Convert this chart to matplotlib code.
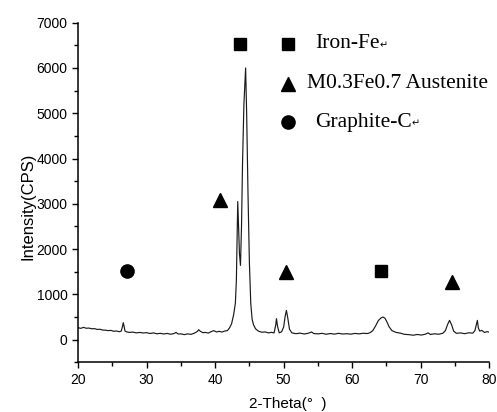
import matplotlib
matplotlib.use("Agg")
import matplotlib.pyplot as plt
from matplotlib.ticker import MultipleLocator

# ==========================================
# Data
# ==========================================

two_theta = [
    20.0, 20.4, 20.8, 21.2, 21.6, 22.0, 22.4, 22.8, 23.2, 23.6,
    24.0, 24.4, 24.8, 25.2, 25.6, 26.0, 26.3, 26.5, 26.6, 26.7,
    26.85, 27.1, 27.5, 28.0, 28.5, 29.0, 29.5, 30.0, 30.5, 31.0,
    31.5, 32.0, 32.5, 33.0, 33.5, 34.0, 34.3, 34.6, 35.0, 35.5,
    36.0, 36.5, 37.0, 37.4, 37.6, 37.8, 38.2, 38.6, 39.0, 39.4,
    39.8, 40.2, 40.6, 41.0, 41.4, 41.8, 42.1, 42.4, 42.7, 42.95,
    43.1, 43.2, 43.3, 43.4, 43.55, 43.7, 43.85, 44.0, 44.2, 44.45,
    44.6, 44.8, 45.0, 45.2, 45.4, 45.6, 45.9, 46.3, 46.8, 47.3,
    47.8, 48.2, 48.6, 48.85, 48.95, 49.1, 49.35, 49.7, 50.0, 50.2,
    50.4, 50.6, 50.85, 51.2, 51.8, 52.4, 53.0, 53.6, 54.06, 54.4,
    55.0, 55.6, 56.2, 56.8, 57.4, 58.0, 58.6, 59.2, 59.8, 60.4,
    61.0, 61.6, 62.2, 62.6, 63.0, 63.4, 63.8, 64.2, 64.5, 64.8,
    65.1, 65.4, 65.8, 66.4, 67.0, 67.6, 68.2, 68.9, 69.5, 70.1,
    70.7, 71.07, 71.4, 72.0, 72.6, 73.2, 73.6, 73.9, 74.2, 74.5,
    74.8, 75.2, 75.8, 76.4, 77.0, 77.6, 77.9, 78.1, 78.26, 78.4,
    78.6, 78.9, 79.3, 79.7, 80.0,
]

intensity = [
    265, 250, 272, 252, 256, 240, 244, 226, 230, 212,
    210, 200, 205, 186, 192, 176, 188, 300, 375, 310,
    190, 172, 160, 168, 150, 160, 148, 155, 136, 150,
    130, 140, 126, 138, 120, 135, 160, 125, 128, 112,
    128, 118, 145, 180, 220, 190, 155, 160, 145, 175,
    200, 170, 185, 168, 190, 200, 260, 350, 550, 800,
    1300, 2200, 3050, 2600, 1900, 1640, 2500, 3900, 5200, 6000,
    5000, 3200, 1700, 800, 450, 330, 240, 190, 165, 170,
    150, 162, 150, 330, 464, 300, 150, 175, 280, 500,
    647, 480, 230, 150, 132, 145, 125, 142, 170, 135,
    128, 140, 120, 136, 122, 140, 125, 132, 122, 138,
    128, 142, 135, 155, 200, 300, 420, 480, 500, 470,
    380, 280, 200, 160, 145, 118, 112, 98, 115, 102,
    122, 150, 115, 130, 120, 140, 200, 330, 426, 330,
    190, 140, 150, 132, 152, 145, 200, 330, 426, 260,
    190, 205, 160, 178, 165,
]

# phase markers above the peaks
fe_x = [43.7, 64.27]
fe_y = [6540, 1509]
austenite_x = [40.7, 50.28, 74.56]
austenite_y = [3080, 1494, 1272]
graphite_x = [27.1]
graphite_y = [1509]

legend_labels = ["Iron-Fe", "M0.3Fe0.7 Austenite", "Graphite-C"]
legend_y = [6540, 5655, 4807]

# ==========================================
# Plot
# ==========================================

plt.rcParams['font.family'] = ['Liberation Sans', 'DejaVu Sans']

fig = plt.figure(figsize=(4.97, 4.12), dpi=100)
ax = fig.add_axes([0.157, 0.1206, 0.8275, 0.8243])

ax.plot(two_theta, intensity, color='#1a1a1a', linewidth=0.85)

ax.plot(fe_x, fe_y, 's', color='black', markersize=8.5, linestyle='none')
ax.plot(austenite_x, austenite_y, '^', color='black', markersize=10.5, linestyle='none')
ax.plot(graphite_x, graphite_y, 'o', color='black', markersize=9.5, linestyle='none')

# legend drawn as markers + serif text
legend_marker_x = 50.66
ax.plot([legend_marker_x], [legend_y[0]], 's', color='black', markersize=8.5)
ax.plot([legend_marker_x], [legend_y[1]], '^', color='black', markersize=10.5)
ax.plot([legend_marker_x], [legend_y[2]], 'o', color='black', markersize=9.5)

serif = ['Liberation Serif', 'DejaVu Serif']
text_x = [54.55, 53.34, 54.55]
for i, (tx, ty, label) in enumerate(zip(text_x, legend_y, legend_labels)):
    t = ax.text(tx, ty, label, family=serif, fontsize=15.5, va='center', ha='left')
    if i != 1:
        # small return mark left over from the word processor
        ax.annotate("\u21b5", xy=(1.0, 0.15), xycoords=t, family=['DejaVu Sans'],
                    fontsize=7, ha='left', va='bottom')

ax.set_xlim(20, 80)
ax.set_ylim(-500, 7000)

ax.xaxis.set_major_locator(MultipleLocator(10))
ax.xaxis.set_minor_locator(MultipleLocator(5))
ax.yaxis.set_major_locator(MultipleLocator(1000))
ax.yaxis.set_minor_locator(MultipleLocator(500))
ax.set_yticks(range(0, 7001, 1000))

ax.tick_params(which='major', direction='out', length=4.5, width=1.0,
               labelsize=10, pad=3)
ax.tick_params(which='minor', direction='out', length=3, width=1.0)

for side in ['top', 'right']:
    ax.spines[side].set_visible(False)
for side in ['left', 'bottom']:
    ax.spines[side].set_linewidth(1.1)

ax.set_ylabel("Intensity(CPS)", fontsize=12, va='center')
ax.yaxis.set_label_coords(-0.121, 0.46)
ax.set_xlabel("2-Theta(\u00b0  )", fontsize=11, va='center')
ax.xaxis.set_label_coords(0.509, -0.122)

fig.savefig("out.png", dpi=100)
